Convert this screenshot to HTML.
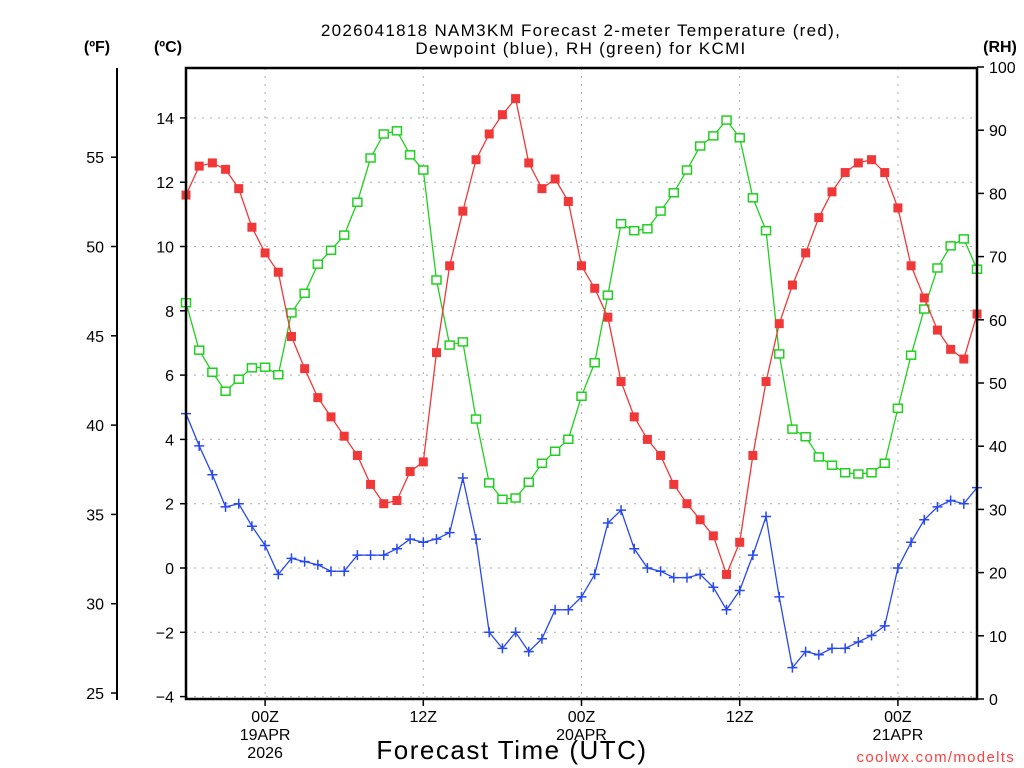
<!DOCTYPE html>
<html><head><meta charset="utf-8"><style>
html,body{margin:0;padding:0;background:#fff;}
svg{display:block;font-family:"Liberation Sans","DejaVu Sans",sans-serif;}
</style></head><body>
<svg id="chart" width="1024" height="768" viewBox="0 0 1024 768" xmlns="http://www.w3.org/2000/svg">
<rect width="1024" height="768" fill="#fff"/>
<g font-size="17" text-anchor="middle" fill="#000" letter-spacing="1.3">
<text x="581" y="36">2026041818 NAM3KM Forecast 2-meter Temperature (red),</text>
<text x="581" y="54">Dewpoint (blue), RH (green) for KCMI</text>
</g>
<text x="97" y="52" font-size="16" font-weight="bold" text-anchor="middle">(ºF)</text>
<text x="168" y="52" font-size="16" font-weight="bold" text-anchor="middle">(ºC)</text>
<text x="1000" y="52" font-size="16" font-weight="bold" text-anchor="middle">(RH)</text>
<g id="grid"></g>
<g id="axes"></g>
<g id="series"></g>
<rect x="186" y="68" width="791" height="631" fill="none" stroke="#000" stroke-width="2.5"/>
<text x="512" y="759" font-size="26" text-anchor="middle" letter-spacing="1.5">Forecast Time (UTC)</text>
<text x="1015" y="762" font-size="15" fill="#ff4040" text-anchor="end" letter-spacing="1.3">coolwx.com/modelts</text>
</svg>
<script>
const tempC=[11.6,12.5,12.6,12.4,11.8,10.6,9.8,9.2,7.2,6.2,5.3,4.7,4.1,3.5,2.6,2.0,2.1,3.0,3.3,6.7,9.4,11.1,12.7,13.5,14.1,14.6,12.6,11.8,12.1,11.4,9.4,8.7,7.8,5.8,4.7,4.0,3.5,2.6,2.0,1.5,1.0,-0.2,0.8,3.5,5.8,7.6,8.8,9.8,10.9,11.7,12.3,12.6,12.7,12.3,11.2,9.4,8.4,7.4,6.8,6.5,7.9];
const dewC=[4.8,3.8,2.9,1.9,2.0,1.3,0.7,-0.2,0.3,0.2,0.1,-0.1,-0.1,0.4,0.4,0.4,0.6,0.9,0.8,0.9,1.1,2.8,0.9,-2.0,-2.5,-2.0,-2.6,-2.2,-1.3,-1.3,-0.9,-0.2,1.4,1.8,0.6,0.0,-0.1,-0.3,-0.3,-0.2,-0.6,-1.3,-0.7,0.4,1.6,-0.9,-3.1,-2.6,-2.7,-2.5,-2.5,-2.3,-2.1,-1.8,0.0,0.8,1.5,1.9,2.1,2.0,2.5];
const rh=[62.7,55.2,51.7,48.7,50.6,52.4,52.5,51.3,61.1,64.2,68.8,71.0,73.4,78.6,85.6,89.4,89.9,86.1,83.7,66.3,56.0,56.5,44.3,34.2,31.6,31.8,34.3,37.3,39.2,41.1,47.9,53.2,63.9,75.2,74.1,74.4,77.2,80.1,83.7,87.5,89.1,91.6,88.8,79.3,74.1,54.6,42.7,41.5,38.3,37.0,35.8,35.6,35.8,37.3,46.0,54.4,61.7,68.2,71.7,72.8,68.0];
const cTicks=[-4,-2,0,2,4,6,8,10,12,14];
const fTicks=[25,30,35,40,45,50,55];
const rhTicks=[0,10,20,30,40,50,60,70,80,90,100];
const xTickHours=[6,18,30,42,54];
const xTickLabels=[["00Z","19APR","2026"],["12Z"],["00Z","20APR"],["12Z"],["00Z","21APR"]];

const NS="http://www.w3.org/2000/svg";
const X0=186,X1=977,HMAX=60;
const xS=h=>X0+(X1-X0)*h/HMAX;
const yC=c=>568-c*32.15;
const yF=f=>yC((f-32)*5/9);
const yR=r=>699-r*6.32;
function mk(tag,at,parent){const e=document.createElementNS(NS,tag);for(const k in at)e.setAttribute(k,at[k]);parent.appendChild(e);return e;}
const grid=document.getElementById('grid'),axes=document.getElementById('axes'),ser=document.getElementById('series');

cTicks.forEach(c=>{
  const y=yC(c);
  const g=mk('line',{x1:X0,x2:X1,y1:y,y2:y,stroke:'#aaa','stroke-dasharray':'2,6'},grid);
  
  
  const t=mk('line',{x1:X0-6,x2:X0,y1:y,y2:y,stroke:'#000','stroke-width':1.5},axes);
  
  
  const l=mk('text',{x:X0-12,y:y+6,'font-size':16,'text-anchor':'end'},axes);
  l.textContent=c<0?'\u2212'+Math.abs(c):String(c);
  
  
});
const fl=mk('line',{x1:117,x2:117,y1:68,y2:700,stroke:'#000','stroke-width':2},axes);


fTicks.forEach(f=>{
  const y=yF(f);
  const t=mk('line',{x1:111,x2:117,y1:y,y2:y,stroke:'#000','stroke-width':1.5},axes);
  
  
  const l=mk('text',{x:104,y:y+6,'font-size':16,'text-anchor':'end'},axes);
  l.textContent=String(f);
  
  
});
rhTicks.forEach(r=>{
  const y=yR(r);
  const t=mk('line',{x1:X1,x2:X1+7,y1:y,y2:y,stroke:'#000','stroke-width':1.5},axes);
  
  
  const l=mk('text',{x:X1+12,y:y+6,'font-size':16,'text-anchor':'start'},axes);
  l.textContent=String(r);
  
  
});
xTickHours.forEach((h,i)=>{
  const x=xS(h);
  const g=mk('line',{x1:x,x2:x,y1:68,y2:699,stroke:'#aaa','stroke-dasharray':'2,6'},grid);
  
  
  const t=mk('line',{x1:x,x2:x,y1:699,y2:706,stroke:'#000','stroke-width':1.5},axes);
  
  
  xTickLabels[i].forEach((s,j)=>{
    const l=mk('text',{x:x,y:722+j*18,'font-size':16,'text-anchor':'middle'},axes);
    l.textContent=s;
    
    
  });
});

function series(vals,yf,color,name,marker){
  const pts=vals.map((v,i)=>[xS(i),yf(v)]);
  const p=mk('polyline',{points:pts.map(p=>p.join(',')).join(' '),fill:'none',stroke:color,'stroke-width':1.3},ser);
  
  
  pts.forEach(([x,y])=>{
    let m;
    if(marker==='fill'){m=mk('rect',{x:x-4.5,y:y-4.5,width:9,height:9,fill:color},ser);}
    else if(marker==='open'){m=mk('rect',{x:x-4.5,y:y-4,width:9,height:8,fill:'#fff',stroke:color,'stroke-width':1.5},ser);}
    else{m=mk('path',{d:`M${x-5},${y}H${x+5}M${x},${y-5}V${y+5}`,stroke:color,'stroke-width':1.5},ser);}
    
    
  });
}
series(rh,yR,'#20d020','rh','open');
series(tempC,yC,'#f03838','temperature','fill');
series(dewC,yC,'#2848f0','dewpoint','plus');
</script>
</body></html>
